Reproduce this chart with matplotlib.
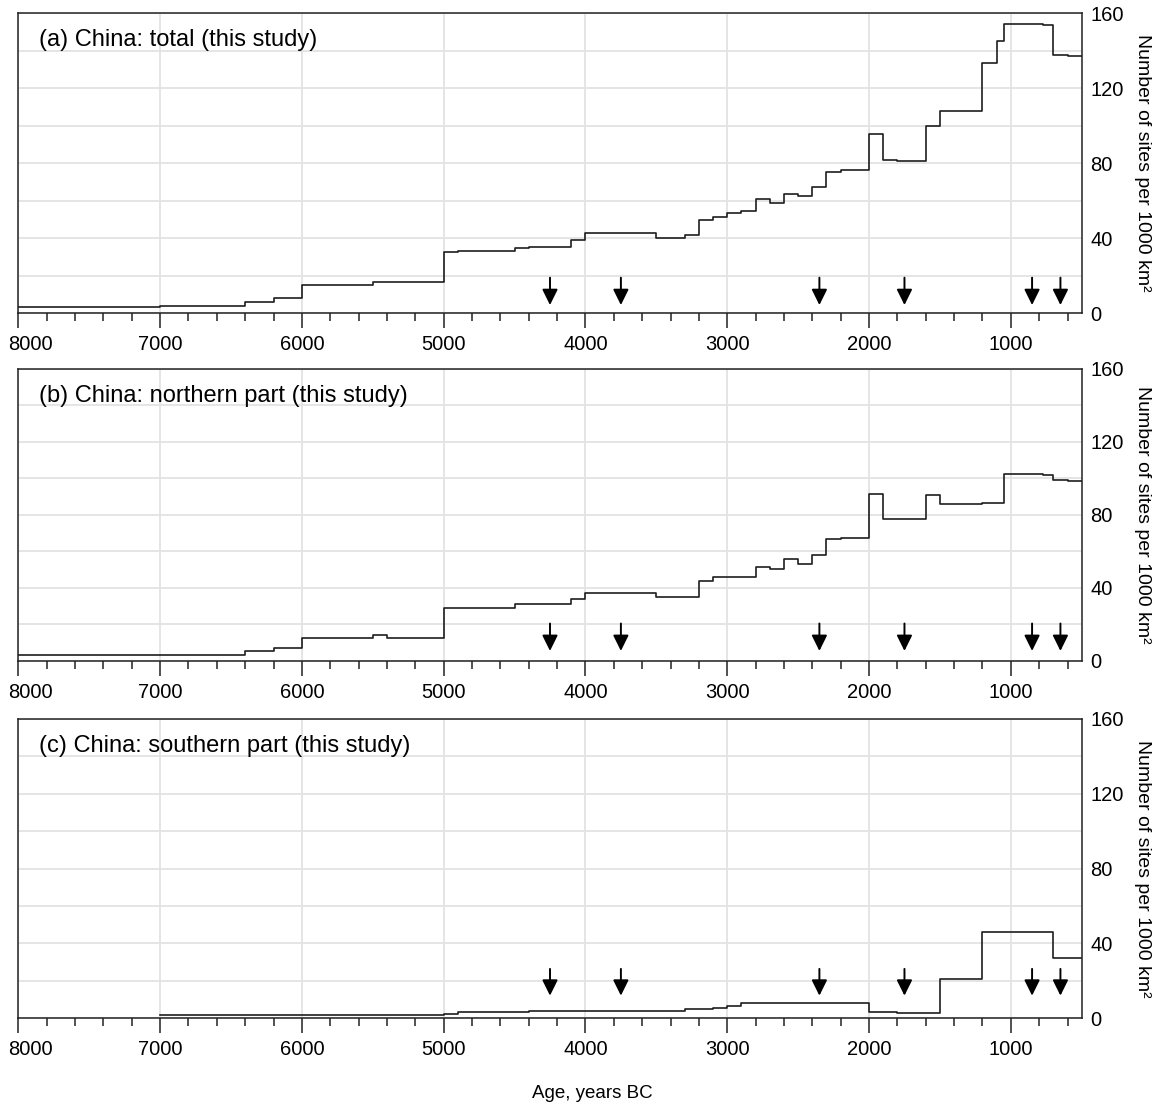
import numpy as np
import matplotlib
matplotlib.use('Agg')
import matplotlib.pyplot as plt
from matplotlib.ticker import MultipleLocator
from matplotlib.transforms import ScaledTranslation

# bin edges (years BC) and site densities
total_edges = [8000, 7000, 6400, 6200, 6000, 5500, 5000, 4900, 4500, 4400, 4100,
               4000, 3500, 3300, 3200, 3100, 3000, 2900, 2800, 2700, 2600, 2500,
               2400, 2300, 2200, 2000, 1900, 1800, 1600, 1500, 1200, 1100, 1046,
               771, 700, 600, 500]
total_values = [3.2, 3.8, 5.8, 7.9, 15.0, 16.5, 32.5, 33.0, 34.7, 35.2, 39.0,
                42.7, 40.4, 42.0, 50.0, 51.2, 53.3, 54.4, 61.2, 58.7, 63.8, 62.5,
                67.2, 75.6, 76.2, 95.5, 81.8, 81.2, 100.0, 107.8, 133.3, 145.1,
                154.3, 153.8, 137.8, 137.2]

north_edges = [8000, 6400, 6200, 6000, 5500, 5400, 5000, 4500, 4100, 4000, 3500,
               3200, 3100, 2800, 2700, 2600, 2500, 2400, 2300, 2200, 2000, 1900,
               1600, 1500, 1200, 1046, 771, 700, 600, 500]
north_values = [3.1, 5.5, 7.1, 12.5, 14.3, 12.5, 28.9, 31.0, 33.7, 37.4, 35.0,
                43.8, 45.8, 51.6, 50.4, 55.7, 53.1, 58.1, 66.7, 67.2, 91.6, 77.7,
                90.8, 85.9, 86.4, 102.2, 101.6, 99.0, 98.5]

south_edges = [7000, 5000, 4900, 4400, 3300, 3100, 3000, 2900, 2000, 1800, 1500,
               1200, 700, 500]
south_values = [1.8, 2.3, 3.2, 3.9, 5.0, 5.7, 6.8, 8.0, 3.2, 2.7, 21.0, 46.0, 32.5]

panel_titles = ['(a) China: total (this study)',
                '(b) China: northern part (this study)',
                '(c) China: southern part (this study)']

# arrows: year, top and tip value for each panel
arrow_years = [4250, 3750, 2350, 1750, 850, 650]
arrow_top = [19.0, 20.5, 26.4]
arrow_tip = [4.4, 5.5, 12.1]

x_ticks = [8000, 7000, 6000, 5000, 4000, 3000, 2000, 1000]
y_ticks = [0, 40, 80, 120, 160]

W, H = 1156, 1104
# axes boxes in pixels: top, bottom
boxes = [(13.3, 313.3), (368.5, 661.0), (719.0, 1018.3)]
left_px, right_px = 18.3, 1081.7


def stair_xy(edges, values):
    edges = np.asarray(edges, dtype=float)
    values = np.asarray(values, dtype=float)
    x = np.repeat(edges, 2)[1:-1]
    y = np.repeat(values, 2)
    return x, y


def main():
    plt.rcParams['font.family'] = ['Liberation Sans', 'DejaVu Sans']
    fig = plt.figure(figsize=(W / 100, H / 100), dpi=100)

    series = [(total_edges, total_values), (north_edges, north_values),
              (south_edges, south_values)]

    for i, (edges, values) in enumerate(series):
        top, bottom = boxes[i]
        ax = fig.add_axes([left_px / W, 1 - bottom / H,
                           (right_px - left_px) / W, (bottom - top) / H])

        x, y = stair_xy(edges, values)
        ax.plot(x, y, color='#1e1e1e', lw=1.2, zorder=3)

        for yr in arrow_years:
            ax.annotate('', xy=(yr, arrow_tip[i]), xytext=(yr, arrow_top[i]),
                        arrowprops=dict(arrowstyle='-|>,head_length=0.95,head_width=0.47',
                                        color='black', lw=1.4, shrinkA=0, shrinkB=0,
                                        mutation_scale=10),
                        zorder=4)

        ax.set_xlim(8000, 500)
        ax.set_ylim(0, 160)
        ax.set_xticks(x_ticks)
        ax.set_xticklabels([str(t) for t in x_ticks])
        ax.xaxis.set_minor_locator(MultipleLocator(200))
        ax.set_yticks(y_ticks)
        ax.yaxis.set_minor_locator(MultipleLocator(20))
        ax.yaxis.tick_right()

        ax.tick_params(axis='x', which='major', direction='out', length=10.8,
                       width=1.1, color='#222222', labelsize=14.5, pad=5)
        ax.tick_params(axis='x', which='minor', direction='out', length=5.8,
                       width=1.1, color='#222222')
        ax.tick_params(axis='y', which='both', length=0, labelsize=14.5, pad=6)

        # first label sits inside the figure, shifted right of its tick
        first = ax.get_xticklabels()[0]
        first.set_transform(first.get_transform()
                            + ScaledTranslation(0.12, 0, fig.dpi_scale_trans))

        ax.grid(axis='x', which='major', color='#e3e3e3', lw=1.3, zorder=0)
        ax.grid(axis='y', which='both', color='#e3e3e3', lw=1.3, zorder=0)
        ax.set_axisbelow(True)

        for s in ax.spines.values():
            s.set_color('#222222')
            s.set_linewidth(1.1)

        ax.yaxis.set_label_position('right')
        ax.set_ylabel('Number of sites per 1000 km\u00b2', fontsize=14,
                      rotation=-90, rotation_mode='anchor', ha='center', va='center')
        ax.yaxis.set_label_coords((1143 - left_px) / (right_px - left_px), 0.5)

        ax.annotate(panel_titles[i], xy=(0, 1), xycoords='axes fraction',
                    xytext=(15, -19.5), textcoords='offset points',
                    fontsize=17, ha='left', va='center')

    fig.text(592 / W, 1 - 1093 / H, 'Age, years BC', fontsize=13.5,
             ha='center', va='center')

    fig.savefig('out.png', dpi=100)


if __name__ == "__main__":
    main()
